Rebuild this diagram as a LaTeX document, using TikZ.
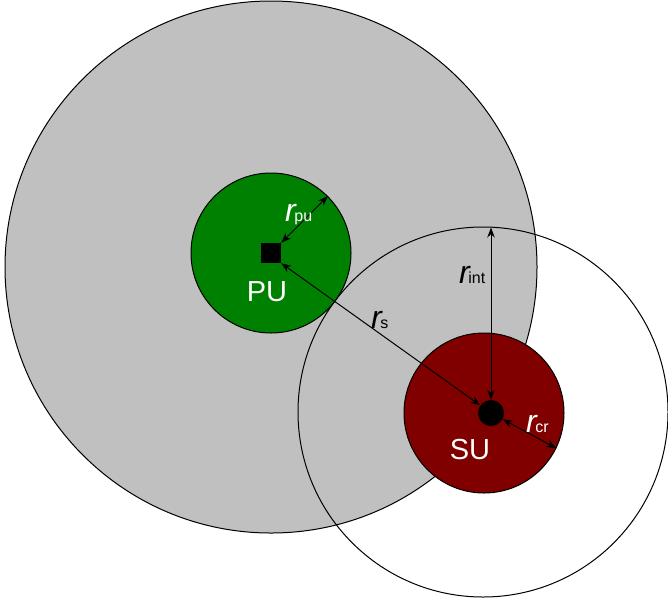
\documentclass[tikz,border=0pt]{standalone}
\usepackage{fontspec}
\setmainfont{Liberation Sans}
\usetikzlibrary{arrows.meta}
\definecolor{areagray}{RGB}{192,192,192}
\definecolor{pugreen}{RGB}{0,128,0}
\definecolor{sured}{RGB}{128,0,0}
\newcommand{\rlabel}[1]{{\fontsize{32}{32}\selectfont\itshape r}\kern-1.5pt{\fontsize{16}{16}\selectfont #1}}
\begin{document}
\begin{tikzpicture}[x=1pt,y=-1pt,
  zone/.style={circle, draw=black, line width=1pt, inner sep=0pt},
  dimline/.style={line width=1pt, {Stealth[length=10pt,width=7.5pt]}-{Stealth[length=10pt,width=7.5pt]}},
  rlab/.style={anchor=base west, inner sep=0pt, text=#1},
  unitlab/.style={anchor=base, inner sep=0pt, text=white, font=\fontsize{29}{29}\selectfont}
]
\useasboundingbox (0,0) rectangle (668,603);
\node[zone, fill=areagray, minimum size=532pt] (cov) at (271,267) {};
\node[zone, minimum size=370pt] (intf) at (483,412) {};
\node[zone, fill=pugreen, minimum size=160pt] (pucirc) at (271,253) {};
\node[zone, fill=sured, minimum size=160pt] (sucirc) at (484,413) {};
\node[fill=black, minimum size=20pt, inner sep=0pt] (pu) at (271,253) {};
\node[circle, fill=black, minimum size=26pt, inner sep=0pt] (su) at (491,413) {};
\coordinate (inttop) at (491,227.5);

\draw[dimline] (pu.north east) -- (pucirc.45);
\draw[dimline] (pu.south east) -- (su);
\draw[dimline] (su.north) -- (inttop);
\draw[dimline] (su.-28) -- (sucirc.-26);

\node[rlab=white] (lpu) at (285,221) {\rlabel{pu}};
\node[rlab=black] (ls) at (371,328) {\rlabel{s}};
\node[rlab=black] (lint) at (459,283) {\rlabel{int}};
\node[rlab=white] (lcr) at (526,432) {\rlabel{cr}};
\node[unitlab] (pulab) at (267,301) {PU};
\node[unitlab] (sulab) at (470,459) {SU};
\end{tikzpicture}
\end{document}
